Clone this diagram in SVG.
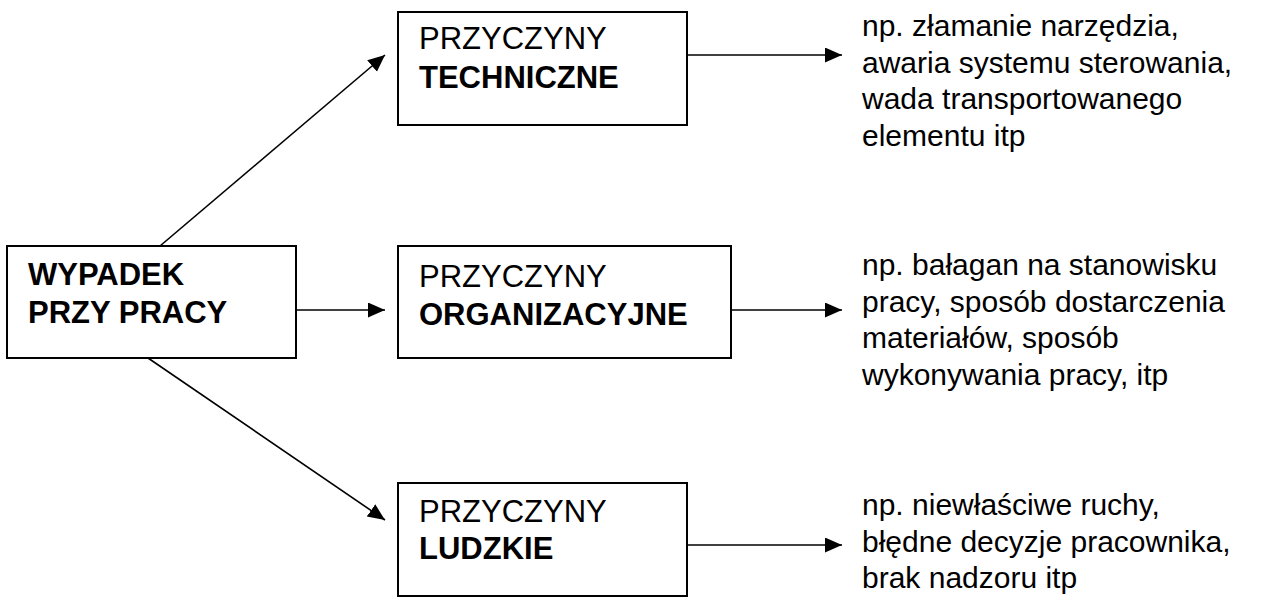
<svg xmlns="http://www.w3.org/2000/svg" width="1266" height="599" viewBox="0 0 1266 599">
<style>
.box{fill:#fff;stroke:#000;stroke-width:2}
.t{font-family:"Liberation Sans",Arial,sans-serif;font-size:31px;fill:#000}
.b{font-weight:bold}
.r{font-family:"Liberation Sans",Arial,sans-serif;font-size:30px;fill:#000}
.c{stroke:#000;stroke-width:1.6;fill:none;marker-end:url(#ah)}
</style>
<defs>
<marker id="ah" markerUnits="userSpaceOnUse" markerWidth="18" markerHeight="16" refX="17" refY="7.5" orient="auto">
<path d="M0,0 L17,7.5 L0,15 z" fill="#000"/>
</marker>
</defs>
<g id="connectors">
<line class="c" x1="160" y1="246" x2="385" y2="55"/>
<line class="c" x1="296" y1="310" x2="385" y2="310"/>
<line class="c" x1="148" y1="358" x2="385" y2="520"/>
<line class="c" x1="687" y1="55" x2="842" y2="55"/>
<line class="c" x1="731" y1="310" x2="842" y2="310"/>
<line class="c" x1="687" y1="545" x2="842" y2="545"/>
</g>
<g id="wypadek">
<rect class="box" x="7" y="246" width="289" height="112"/>
<text class="t b" x="28" y="285">WYPADEK</text>
<text class="t b" x="28" y="323">PRZY PRACY</text>
</g>
<g id="techniczne">
<rect class="box" x="398" y="12" width="289" height="113"/>
<text class="t" x="419" y="49">PRZYCZYNY</text>
<text class="t b" x="419" y="88">TECHNICZNE</text>
</g>
<g id="organizacyjne">
<rect class="box" x="398" y="246" width="333" height="112"/>
<text class="t" x="419" y="287">PRZYCZYNY</text>
<text class="t b" x="419" y="325">ORGANIZACYJNE</text>
</g>
<g id="ludzkie">
<rect class="box" x="398" y="483" width="289" height="113"/>
<text class="t" x="419" y="522">PRZYCZYNY</text>
<text class="t b" x="419" y="559">LUDZKIE</text>
</g>
<g id="opis-techniczne">
<text class="r" x="862" y="36">np. złamanie narzędzia,</text>
<text class="r" x="862" y="73">awaria systemu sterowania,</text>
<text class="r" x="862" y="109">wada transportowanego</text>
<text class="r" x="862" y="146">elementu itp</text>
</g>
<g id="opis-organizacyjne">
<text class="r" x="862" y="275">np. bałagan na stanowisku</text>
<text class="r" x="862" y="312">pracy, sposób dostarczenia</text>
<text class="r" x="862" y="348">materiałów, sposób</text>
<text class="r" x="862" y="385">wykonywania pracy, itp</text>
</g>
<g id="opis-ludzkie">
<text class="r" x="862" y="515">np. niewłaściwe ruchy,</text>
<text class="r" x="862" y="552">błędne decyzje pracownika,</text>
<text class="r" x="862" y="588">brak nadzoru itp</text>
</g>
</svg>
